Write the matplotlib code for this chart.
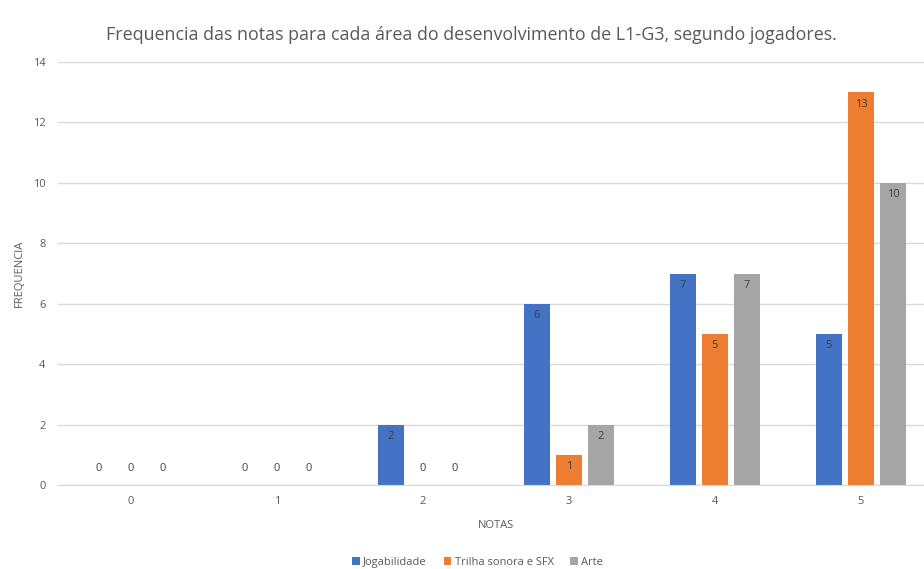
import numpy as np
import matplotlib.pyplot as plt

notas = ['0', '1', '2', '3', '4', '5']
series = ['Jogabilidade', 'Trilha sonora e SFX', 'Arte']
jogabilidade = [0, 0, 2, 6, 7, 5]
trilha = [0, 0, 0, 1, 5, 13]
arte = [0, 0, 0, 2, 7, 10]
cores = ['#4472C4', '#ED7D31', '#A5A5A5']

plt.rcParams['font.family'] = ['Open Sans', 'DejaVu Sans']

fig = plt.figure(figsize=(9.24, 5.69), dpi=100)
ax = fig.add_axes([0.0628, 0.1476, 0.948, 0.7434])

x = np.arange(len(notas))
largura = 0.178
passo = 0.219

for i, (nome, vals) in enumerate(zip(series, [jogabilidade, trilha, arte])):
    pos = x + (i - 1) * passo
    ax.bar(pos, vals, width=largura, color=cores[i], label=nome, zorder=3)
    for px, v in zip(pos, vals):
        # rótulo dentro do topo da barra; zeros ficam logo acima do eixo
        dy = 12 if v == 0 else -8.5
        ax.annotate(str(v), (px, v), xytext=(0, dy), textcoords='offset points',
                    ha='center', va='center', fontsize=8, color='#404040')

ax.set_xlim(-0.5, 5.5)
ax.set_ylim(0, 14)
ax.set_yticks(range(0, 15, 2))
ax.set_xticks(x)
ax.set_xticklabels(notas)
ax.grid(axis='y', color='#D9D9D9', linewidth=1, zorder=0)
for s in ['top', 'right', 'left']:
    ax.spines[s].set_visible(False)
ax.spines['bottom'].set_color('#D9D9D9')
ax.spines['bottom'].set_zorder(4)
ax.tick_params(length=0, labelsize=8, labelcolor='#595959', pad=8)
ax.tick_params(axis='y', pad=9)

ax.set_xlabel('NOTAS', fontsize=8, color='#595959', labelpad=9)
ax.set_ylabel('FREQUENCIA', fontsize=8, color='#595959', labelpad=6)

fig.suptitle('Frequencia das notas para cada área do desenvolvimento de L1-G3, segundo jogadores.',
             x=0.510, y=0.955, fontsize=12.9, color='#595959')

fig.legend(loc='center', bbox_to_anchor=(0.517, 0.012), ncol=3, frameon=False,
           fontsize=8, labelcolor='#595959', handlelength=0.7, handleheight=0.7,
           handletextpad=0.3, columnspacing=1.5)

fig.savefig('out.png', dpi=100)
